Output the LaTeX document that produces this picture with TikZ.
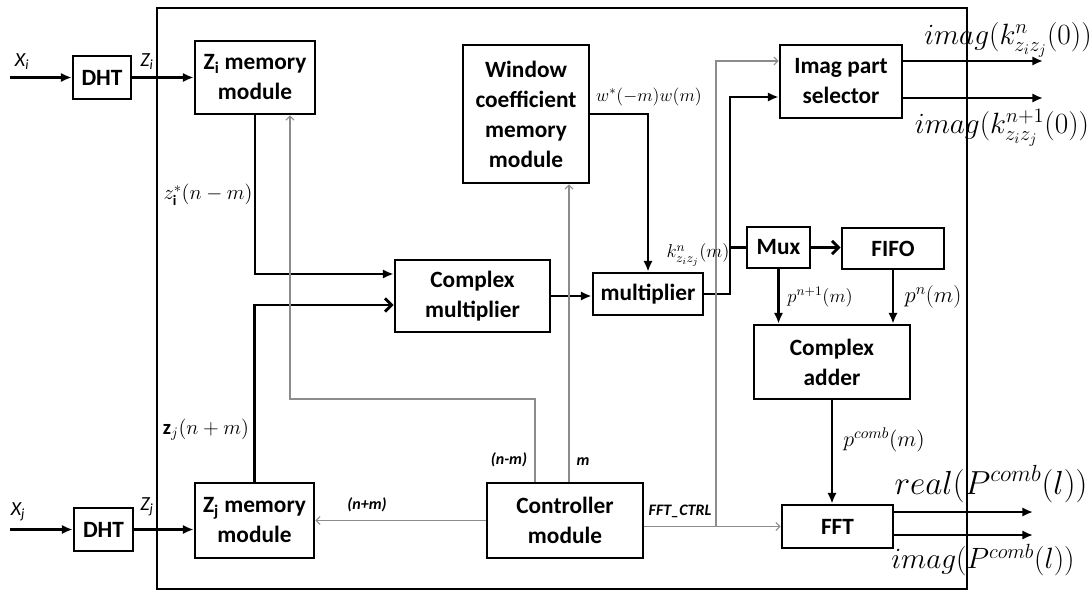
\RequirePackage{fix-cm}
\documentclass[tikz,border=0pt]{standalone}
\usepackage{amsmath}
\usepackage{fontspec}
\setmainfont{Carlito}
\usetikzlibrary{arrows.meta}

\begin{document}
\begin{tikzpicture}[x=0.75pt,y=0.75pt,yscale=-1,xscale=1,
  blk/.style={draw,line width=2.1pt,align=center,inner sep=0pt,
    font=\fontsize{17.5}{22.5}\selectfont\bfseries},
  sig/.style={line width=2.1pt,-{Latex[length=8pt,width=7pt]}},
  sigb/.style={line width=2.1pt,-{Straight Barb[length=5pt,width=10pt]}},
  ctl/.style={draw=black!45,line width=0.8pt,-{Straight Barb[length=3pt,width=6pt]}},
  lbl/.style={font=\fontsize{12}{14}\selectfont\bfseries\itshape},
  inp/.style={font=\fontsize{15}{16}\selectfont\itshape},
  mth/.style={font=\fontsize{15.5}{18}\selectfont},
  big/.style={font=\fontsize{22}{26}\selectfont}]
\useasboundingbox (0,0) rectangle (1091,592);

%outer frame
\draw[line width=2.1pt] (157,8) rectangle (967,589);

%blocks
\node[blk,minimum width=43.5pt,minimum height=32.25pt] (dhtA) at (102,77.5) {DHT};
\node[blk,minimum width=44.25pt,minimum height=32.25pt] (dhtB) at (103.5,529.5) {DHT};
\node[blk,minimum width=90pt,minimum height=54.75pt] (zimem) at (255,77.5) {Z\textsubscript{i} memory\\module};
\node[blk,minimum width=89.25pt,minimum height=56.25pt] (zjmem) at (254.5,520.5) {Z\textsubscript{j} memory\\module};
\node[blk,minimum width=94.5pt,minimum height=103.5pt] (window) at (526,114) {Window\\coefficient\\memory\\module};
\node[blk,minimum width=116.25pt,minimum height=54pt] (cmult) at (472.5,296) {Complex\\multiplier};
\node[blk,minimum width=82.5pt,minimum height=31.5pt] (mult) at (648,294) {multiplier};
\node[blk,minimum width=91.5pt,minimum height=54.75pt] (imagsel) at (841,81.5) {Imag part\\selector};
\node[blk,minimum width=47.25pt,minimum height=30.75pt] (mux) at (778.5,247.5) {Mux};
\node[blk,minimum width=76.5pt,minimum height=30.75pt] (fifo) at (893,248.5) {FIFO};
\node[blk,minimum width=117pt,minimum height=55.5pt] (cadder) at (832,362) {Complex\\adder};
\node[blk,minimum width=83.25pt,minimum height=32.25pt] (fft) at (837.5,526.5) {FFT};
\node[blk,minimum width=117pt,minimum height=56.25pt] (ctrl) at (565,520.5) {Controller\\module};

%free ends
\coordinate (xiin) at (10,77.5);
\coordinate (xjin) at (10,529.5);
\coordinate (outA) at (1043,61);
\coordinate (outB) at (1043,98);
\coordinate (outC) at (1033,512);
\coordinate (outD) at (1033,535);

%data paths
\draw[sig] (xiin) -- (dhtA.west);
\draw[sig] (dhtA.east) -- (zimem.west);
\draw[sig] (xjin) -- (dhtB.west);
\draw[sig] (dhtB.east) -- (zjmem.west |- dhtB.east);
\draw[sig] (zimem.south) |- (cmult.west |- 0,274);
\draw[sigb] (zjmem.north) |- (cmult.west |- 0,305);
\draw[sig] (cmult.east) -- (mult.west |- cmult.east);
\draw[sig] (window.east) -| (mult.north);
\draw[sig] (mult.east) -- (mult.east -| 730,0) |- (imagsel.west |- 0,97);
\draw[line width=2.1pt] (mux.west -| 730,0) -- (mux.west);
\draw[sigb] (mux.east) -- (fifo.west |- mux.east);
\draw[sig] (mux.south) -- (mux.south |- cadder.north);
\draw[sig] (fifo.south) -- (fifo.south |- cadder.north);
\draw[sig] (cadder.south) -- (cadder.south |- fft.north);
\draw[sig] (imagsel.east |- outA) -- (outA);
\draw[sig] (imagsel.east |- outB) -- (outB);
\draw[sig] (fft.east |- outC) -- (outC);
\draw[sig] (fft.east |- outD) -- (outD);

%control paths
\draw[ctl] (ctrl.north -| 535,0) |- (290,399) -- (zimem.south -| 290,0);
\draw[ctl] (ctrl.north -| 569,0) -- (window.south -| 569,0);
\draw[ctl] (ctrl.west) -- (zjmem.east);
\draw[ctl] (ctrl.east |- fft.west) -- (fft.west);
\draw[ctl] (fft.west -| 716,0) |- (imagsel.west |- outA);

%labels
\node[inp] (lxi) at (22,62) {X\textsubscript{i}};
\node[inp] (lzi) at (147,62) {Z\textsubscript{i}};
\node[inp] (lxj) at (18,512) {X\textsubscript{j}};
\node[inp] (lzj) at (147,507) {Z\textsubscript{j}};
\node[mth] (lzis) at (208,195) {$z_{\mathbf{i}}^{*}(n-m)$};
\node[mth] (lzjn) at (206,430) {$\mathbf{z}_{j}(n+m)$};
\node[mth,font=\fontsize{13.5}{16}\selectfont] (lw) at (649,97) {$w^{*}(-m)w(m)$};
\node[mth,font=\fontsize{14}{16}\selectfont] (lk) at (698,255) {$k^{n}_{z_i z_j}(m)$};
\node[mth,font=\fontsize{14}{16}\selectfont] (lpn1) at (820,297) {$p^{n+1}(m)$};
\node[mth,font=\fontsize{17}{20}\selectfont] (lpn) at (933,297) {$p^{n}(m)$};
\node[mth,font=\fontsize{16.5}{19}\selectfont] (lpc) at (884,440) {$p^{comb}(m)$};
\node[lbl] (lnm) at (509,460) {(n-m)};
\node[lbl] (lm) at (583,462) {m};
\node[lbl] (lnp) at (367,505) {(n+m)};
\node[lbl] (lfc) at (680,511) {FFT\_CTRL};
\node[big] (lka) at (1008,40) {$imag(k^{n}_{z_i z_j}(0))$};
\node[big] (lkb) at (1002,128) {$imag(k^{n+1}_{z_i z_j}(0))$};
\node[big,font=\fontsize{25}{28}\selectfont] (lre) at (991,484) {$real(P^{comb}(l))$};
\node[big] (lim) at (983,560) {$imag(P^{comb}(l))$};

\end{tikzpicture}
\end{document}
